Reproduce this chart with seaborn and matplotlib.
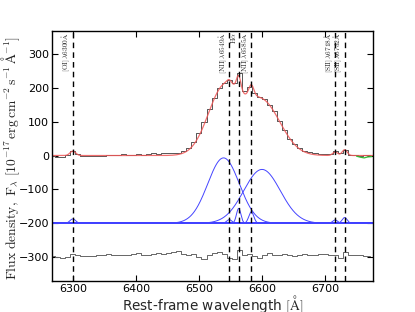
import numpy as np
import pandas as pd
import matplotlib
matplotlib.use("Agg")
import matplotlib.pyplot as plt
import matplotlib.transforms as mtransforms
import seaborn as sns

# ---------------- data ----------------
wave = [6268 + 8 * i for i in range(64)]
flux = [-1, -3, -4, 3, 12, 4, -1, -2, -1, -2, 0, 2, 1, 3, 4, 2, 3, 5, 3, 4,
        6, 5, 7, 6, 8, 7, 12, 22, 40, 66, 100, 136, 170, 198, 214, 222, 214,
        244, 190, 203, 184, 172, 166, 150, 130, 101, 74, 50, 34, 21, 13, 9, 6,
        5, 4, 5, 12, 7, 17, 3, 1, 0, 2, 3]
resid = [-296, -299, -303, -298, -290, -294, -296, -295, -295, -293, -293,
         -290, -292, -293, -292, -294, -291, -288, -292, -293, -290, -288,
         -289, -286, -284, -281, -290, -293, -289, -298, -305, -294, -288,
         -284, -290, -303, -304, -280, -294, -289, -297, -302, -293, -287,
         -292, -293, -291, -294, -295, -292, -290, -292, -293, -291, -290,
         -292, -293, -302, -284, -293, -294, -293, -295, -296]

# fitted Gaussian components (centre [A], amplitude, sigma [A])
comp_center = [6300, 6548, 6563, 6583, 6716, 6731, 6539, 6600]
comp_amp = [13, 11, 44, 34, 10, 17, 193, 159]
comp_sigma = [4.5, 4.0, 3.5, 4.0, 4.0, 4.0, 25, 29]
comp_offset = -200

masked_wave = [6750, 6756, 6762, 6768, 6774]
masked_flux = [-2, -5, -7, -4, -3]

line_wave = [6300, 6548, 6563, 6583, 6716, 6731]
line_label = [r"$\mathrm{[OI]\,\lambda6300Å}$", r"$\mathrm{[NII]\,\lambda6549Å}$",
              r"$\mathrm{H\alpha}$", r"$\mathrm{[NII]\,\lambda6585Å}$",
              r"$\mathrm{[SII]\,\lambda6718Å}$", r"$\mathrm{[SII]\,\lambda6732Å}$"]

xticks = [6300, 6400, 6500, 6600, 6700]
yticks = [-300, -200, -100, 0, 100, 200, 300]

# ---------------- style ----------------
sns.set_style("ticks")
plt.rcParams["font.family"] = ["DejaVu Sans"]
plt.rcParams["mathtext.fontset"] = "cm"
plt.rcParams["xtick.direction"] = "in"
plt.rcParams["ytick.direction"] = "in"
plt.rcParams["xtick.top"] = True
plt.rcParams["ytick.right"] = True

fig = plt.figure(figsize=(4.15, 3.12), dpi=100)
ax = fig.add_axes([0.1253, 0.0994, 0.7735, 0.801])

grid = np.linspace(6260, 6780, 1200)
model = np.zeros_like(grid)
for c, a, s in zip(comp_center, comp_amp, comp_sigma):
    g = a * np.exp(-0.5 * ((grid - c) / s) ** 2)
    model += g
    sns.lineplot(x=grid, y=g + comp_offset, ax=ax, color="#4444ff", lw=0.7,
                 sort=False, estimator=None)
ax.axhline(comp_offset, color="#2a2aff", lw=1.3, zorder=1)

df = pd.DataFrame({"wave": wave, "flux": flux, "resid": resid})
sns.lineplot(data=df, x="wave", y="flux", ax=ax, color="#555555", lw=0.7,
             drawstyle="steps-mid", sort=False, estimator=None)
sns.lineplot(x=grid, y=model, ax=ax, color="#ee5555", lw=0.9, alpha=0.85,
             sort=False, estimator=None)
sns.lineplot(data=df, x="wave", y="resid", ax=ax, color="#666666", lw=0.7,
             drawstyle="steps-mid", sort=False, estimator=None)
sns.lineplot(x=masked_wave, y=masked_flux, ax=ax, color="#33bb33", lw=0.9,
             sort=False, estimator=None)

trans = mtransforms.blended_transform_factory(ax.transData, ax.transAxes)
for w, lab in zip(line_wave, line_label):
    ax.axvline(w, color="black", ls=(0, (4, 3)), lw=1.0, zorder=3)
    ax.text(w - 0.8, 0.997, lab, transform=trans, rotation=90, ha="right",
            va="top", fontsize=5.3)

ax.set_xlim(6267, 6776)
ax.set_ylim(-370, 367)
ax.set_xticks(xticks)
ax.set_yticks(yticks)
ax.tick_params(labelsize=8, length=4, width=0.8, colors="black", pad=2)
for sp in ax.spines.values():
    sp.set_color("black")
    sp.set_linewidth(1.0)

ax.set_xlabel(r"Rest-frame wavelength $\mathrm{[Å]}$", fontsize=9.8)
ax.xaxis.set_label_coords(0.5, -0.049)
ax.set_ylabel(r"$\mathrm{Flux\ density,\ F_{\lambda}\ [10^{-17}\,erg\,cm^{-2}\,s^{-1}\,Å^{-1}]}$",
              fontsize=9.8)
ax.yaxis.set_label_coords(-0.095, 0.49)

fig.savefig("out.png", dpi=100)
